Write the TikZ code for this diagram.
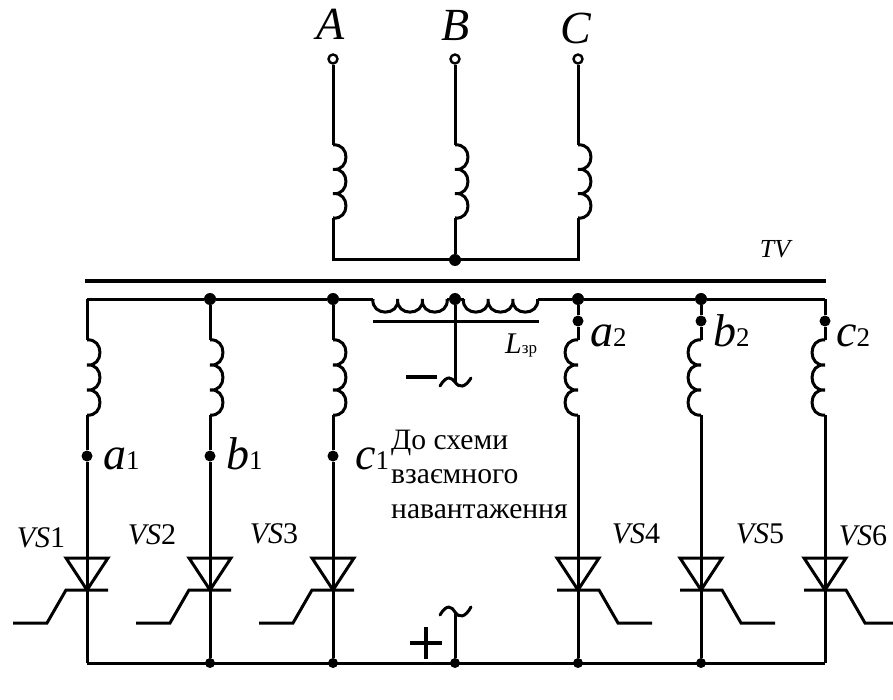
\documentclass[tikz,border=0pt]{standalone}
\usepackage{fontspec}
\setmainfont{Liberation Serif}
\tikzset{
 x=1pt,y=-1pt,
 wire/.style={line width=3pt,black,line cap=butt,line join=miter},
 core/.style={line width=3.6pt,black},
 fdot/.style={circle,fill=black,inner sep=0pt,minimum size=12pt},
 term/.style={circle,draw=black,fill=white,line width=2.4pt,inner sep=0pt,minimum size=9pt},
 lab/.style={inner sep=0pt,font=\fontsize{46}{46}\selectfont\itshape},
 vs/.style={inner sep=0pt,font=\fontsize{30}{30}\selectfont},
 note/.style={inner sep=0pt,anchor=base west,font=\fontsize{29.6}{29.6}\selectfont},
}
% vertical coil of three turns: x, top y, bulge (signed), turn height
\newcommand{\vcoil}[4]{%
 \draw[wire] (#1,#2)
  .. controls (#1+1.33*#3,#2-2) and (#1+1.33*#3,#2+#4+2) .. (#1,#2+#4)
  .. controls (#1+1.33*#3,#2+#4-2) and (#1+1.33*#3,#2+2*#4+2) .. (#1,#2+2*#4)
  .. controls (#1+1.33*#3,#2+2*#4-2) and (#1+1.33*#3,#2+3*#4+2) .. (#1,#2+3*#4);}
\newcommand{\hcoil}[3]{%
 \draw[wire] (#1,#2)
  .. controls (#1-2,#2+17.5) and (#1+#3+2,#2+17.5) .. (#1+#3,#2)
  .. controls (#1+#3-2,#2+17.5) and (#1+2*#3+2,#2+17.5) .. (#1+2*#3,#2)
  .. controls (#1+2*#3-2,#2+17.5) and (#1+3*#3+2,#2+17.5) .. (#1+3*#3,#2);}
% thyristor: x, gate direction (-1 left, +1 right)
\newcommand{\thy}[2]{%
 \draw[wire] (#1-21,558) -- (#1+21,558) -- (#1,590) -- cycle;
 \draw[wire] (#1-#2*21,590) -- (#1+#2*21,590) -- (#1+#2*40,623) -- (#1+#2*74,623);}
\begin{document}
\begin{tikzpicture}
\useasboundingbox (0,0) rectangle (893,700);
\fill[white] (0,0) rectangle (893,700);
% core
\coordinate (coreL) at (85,281); \coordinate (coreR) at (826,281);
\draw[core] (coreL) -- (coreR);
% primary
\node[term] (tA) at (333,59) {};
\node[term] (tB) at (455,59) {};
\node[term] (tC) at (578,59) {};
\foreach \x/\n in {333/A,455/B,578/C}{
 \coordinate (pi\n) at (\x,145); \coordinate (po\n) at (\x,218); \coordinate (pb\n) at (\x,260);
 \vcoil{\x}{145}{13}{24.33}
}
\node[fdot] (nstar) at (455,260) {};
\draw[wire] (tA) -- (piA); \draw[wire] (tB) -- (piB); \draw[wire] (tC) -- (piC);
\draw[wire] (poA) -- (pbA) -- (pbC) -- (poC);
\draw[wire] (poB) -- (nstar);
% top bus dots
\foreach \n/\x in {2/210,3/333,4/578,5/701}{\node[fdot] (u\n) at (\x,299) {};}
\node[fdot] (uM) at (455,299) {};
\coordinate (u1) at (87,299); \coordinate (u6) at (825,299);
\coordinate (chL) at (373,299); \coordinate (chR) at (538,299);
\draw[wire] (u1) -- (u2) -- (u3) -- (chL);
\draw[wire] (chR) -- (u4) -- (u5) -- (u6);
\hcoil{373}{299}{24.7}
\hcoil{463.5}{299}{24.7}
\draw[wire] (447,299) -- (uM) -- (463.5,299);
\coordinate (barL) at (373,321); \coordinate (barR) at (539,321);
\draw[wire] (barL) -- (barR);
% bottom bus
\foreach \n/\x in {2/210,3/333,M/455,4/578,5/701}{\node[fdot,minimum size=10pt] (d\n) at (\x,663) {};}
\coordinate (d1) at (87,663); \coordinate (d6) at (825,663);
\draw[wire] (d1) -- (d6);
% left legs
\foreach \n/\x/\m in {1/87/a,2/210/b,3/333/c}{
 \node[fdot,minimum size=11pt] (\m1) at (\x,456) {};
 \coordinate (ci\n) at (\x,340); \coordinate (co\n) at (\x,415);
 \vcoil{\x}{340}{13}{25}
 \draw[wire] (u\n) -- (ci\n);
 \draw[wire] (co\n) -- (\m1) -- (d\n);
 \thy{\x}{-1}
}
% right legs
\foreach \n/\x/\m in {4/578/a,5/701/b,6/825/c}{
 \node[fdot,minimum size=11pt] (\m2) at (\x,321) {};
 \coordinate (ci\n) at (\x,340); \coordinate (co\n) at (\x,415);
 \vcoil{\x}{340}{-13}{25}
 \draw[wire] (u\n) -- (\m2) -- (ci\n);
 \draw[wire] (co\n) -- (d\n);
 \thy{\x}{1}
}
% centre wires, minus and plus
\coordinate (tilU) at (455,382);
\draw[wire] (uM) -- (tilU);
\coordinate (tilUL) at (440,386); \coordinate (tilUR) at (471,378);
\draw[wire,line cap=round] (tilUL) .. controls (447,374) and (452,378) .. (455,382) .. controls (459,388) and (465,388) .. (tilUR);
\coordinate (minL) at (406,377); \coordinate (minR) at (437,377);
\draw[wire,line width=3.4pt] (minL) -- (minR);
\coordinate (tilD) at (455,612);
\draw[wire] (dM) -- (tilD);
\coordinate (tilDL) at (440,615); \coordinate (tilDR) at (471,607);
\draw[wire,line cap=round] (tilDL) .. controls (447,603) and (452,607) .. (455,612) .. controls (459,618) and (465,618) .. (tilDR);
\coordinate (plL) at (410,643); \coordinate (plR) at (442,643);
\coordinate (plT) at (426,627); \coordinate (plB) at (426,659);
\draw[wire,line width=3.6pt] (plL) -- (plR);
\draw[wire,line width=3.6pt] (plT) -- (plB);
% labels
\node[lab,anchor=base] (lA) at (331,40) {A};
\node[lab,anchor=base] (lB) at (456,40.5) {B};
\node[lab,anchor=base] (lC) at (576,44) {C};
\node[inner sep=0pt,font=\fontsize{26}{26}\selectfont\itshape] (lTV) at (775,249) {TV};
\node[inner sep=0pt,anchor=base west] (lL) at (505,353) {\fontsize{30}{30}\selectfont\itshape L\fontsize{17}{17}\selectfont\upshape зр};
\foreach \t/\sub/\px/\py in {a/1/103/469,b/1/226/469,c/1/355/469,a/2/590/346,b/2/713/346,c/2/836/346}{
 \node[inner sep=0pt,anchor=base west] at (\px,\py) {\fontsize{46}{46}\selectfont\itshape\t\fontsize{27}{27}\selectfont\upshape\sub};
}
\node[vs] (v1) at (41,538) {\textit{VS}1};
\node[vs] (v2) at (152,535) {\textit{VS}2};
\node[vs] (v3) at (274,534) {\textit{VS}3};
\node[vs] (v4) at (636,534) {\textit{VS}4};
\node[vs] (v5) at (760,534) {\textit{VS}5};
\node[vs] (v6) at (863,536) {\textit{VS}6};
\node[note] (n1) at (391,449) {До схеми};
\node[note] (n2) at (391,483) {взаємного};
\node[note] (n3) at (391,518) {навантаження};
\end{tikzpicture}
\end{document}
